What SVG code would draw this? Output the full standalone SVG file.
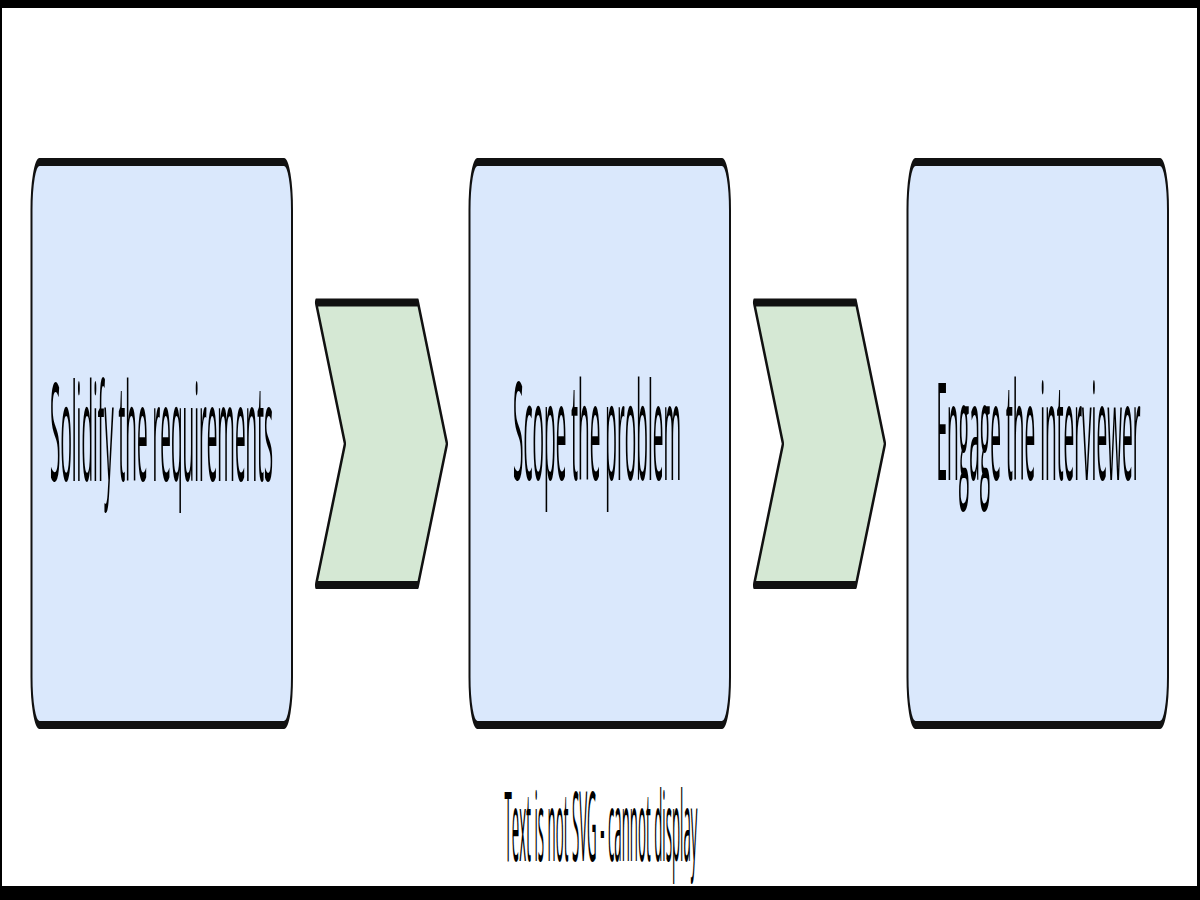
<svg xmlns="http://www.w3.org/2000/svg" width="1200" height="900" viewBox="0 0 1200 900">
  <style>
    .node { fill: #dae8fc; stroke: #111; stroke-width: 2; }
    .chev { fill: #d5e8d4; stroke: #111; stroke-width: 2; stroke-linejoin: round; }
    .lbl { font-family: "Open Sans", "Noto Sans", sans-serif; font-size: 19px; fill: #000; text-anchor: middle; }
    .note { font-family: "Open Sans", "Noto Sans", sans-serif; font-size: 13.5px; fill: #000; text-anchor: middle; }
  </style>
  <rect x="0" y="0" width="1200" height="900" fill="#fff"/>
  <g id="frame" fill="#000">
    <rect x="0" y="0" width="1200" height="8"/>
    <rect x="0" y="886" width="1200" height="14"/>
    <rect x="0" y="0" width="2" height="900"/>
    <rect x="1197" y="0" width="3" height="900"/>
  </g>
  <g id="node1">
    <g transform="scale(1,4)"><rect class="node" x="31.5" y="40.5" width="260.5" height="140.75" rx="8" ry="12"/></g>
    <text class="lbl" transform="translate(161.5,481) scale(1,7.15)" textLength="223" lengthAdjust="spacingAndGlyphs">Solidify the requirements</text>
  </g>
  <g id="node2">
    <g transform="scale(1,4)"><rect class="node" x="469.5" y="40.5" width="260.5" height="140.75" rx="8" ry="12"/></g>
    <text class="lbl" transform="translate(597,480) scale(1,7.15)" textLength="168" lengthAdjust="spacingAndGlyphs">Scope the problem</text>
  </g>
  <g id="node3">
    <g transform="scale(1,4)"><rect class="node" x="907.5" y="40.5" width="260.5" height="140.75" rx="8" ry="12"/></g>
    <text class="lbl" transform="translate(1038.5,480) scale(1,7.15)" textLength="204" lengthAdjust="spacingAndGlyphs">Engage the interviewer</text>
  </g>
  <g id="connectors">
    <g transform="scale(1,4)">
      <polygon class="chev" points="316,75.625 418,75.625 447,110.94 418,146.25 316,146.25 345,110.94"/>
      <polygon class="chev" points="754,75.625 856,75.625 885,110.94 856,146.25 754,146.25 783,110.94"/>
    </g>
  </g>
  <g id="note">
    <text class="note" transform="translate(601,861) scale(1,7.15)" textLength="193" lengthAdjust="spacingAndGlyphs">Text is not SVG - cannot display</text>
  </g>
</svg>
